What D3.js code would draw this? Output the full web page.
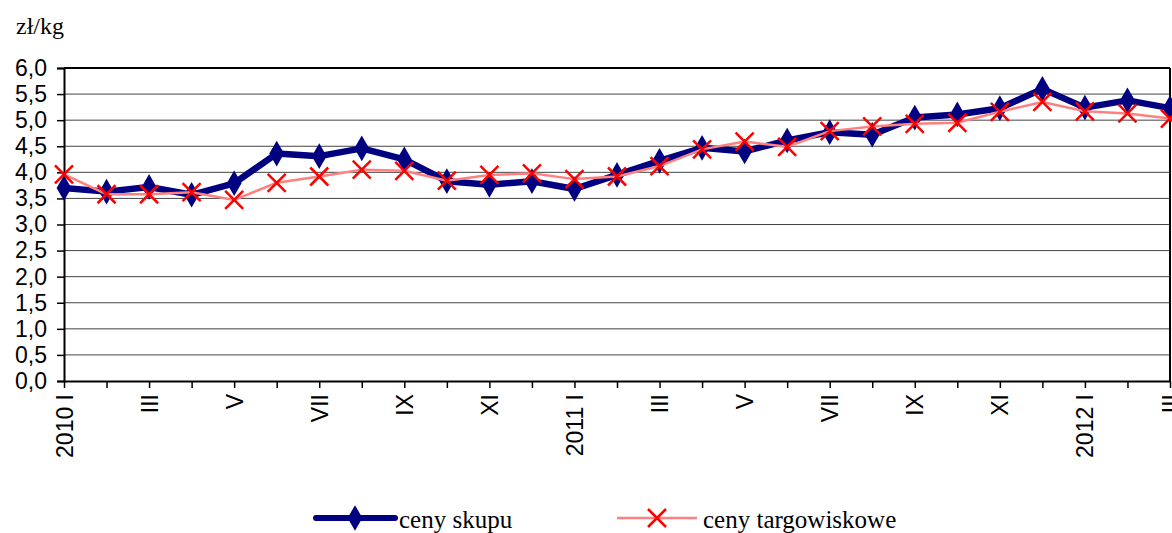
<!DOCTYPE html>
<html>
<head>
<meta charset="utf-8">
<script src="https://cdn.jsdelivr.net/npm/d3@7/dist/d3.min.js"></script>
<style>
body { margin: 0; background: #fff; }
</style>
</head>
<body>
<svg id="viz"></svg>
<script>
var width = 1172;
var height = 533;

// months 2010 I .. 2012 III
var months = ["2010 I","II","III","IV","V","VI","VII","VIII","IX","X","XI","XII",
  "2011 I","II","III","IV","V","VI","VII","VIII","IX","X","XI","XII",
  "2012 I","II","III"];

var cenySkupu = [3.70, 3.63, 3.72, 3.57, 3.79, 4.36, 4.31, 4.46, 4.25, 3.83, 3.76, 3.83,
  3.68, 3.95, 4.22, 4.47, 4.40, 4.61, 4.77, 4.72, 5.05, 5.11, 5.23, 5.60,
  5.24, 5.38, 5.23];

var cenyTarg = [3.96, 3.58, 3.58, 3.62, 3.47, 3.80, 3.92, 4.05, 4.03, 3.84, 3.95, 3.98,
  3.87, 3.92, 4.12, 4.44, 4.59, 4.49, 4.79, 4.88, 4.93, 4.95, 5.16, 5.35,
  5.17, 5.13, 5.03];

var yTicks = d3.range(0, 6.01, 0.5);

var left = 64, right = 1170;
var sans = "Arial, 'Liberation Sans', sans-serif";
var serif = "'Times New Roman', 'Liberation Serif', serif";

var svg = d3.select("#viz").attr("width", width).attr("height", height);

var x = d3.scalePoint()
  .domain(d3.range(months.length))
  .range([left, right]);

var y = d3.scaleLinear()
  .domain([0, 6])
  .range([381, 68]);

// gridlines
svg.append("g").selectAll("line")
  .data(yTicks.filter(function(d) { return d > 0; }))
  .enter().append("line")
  .attr("x1", left).attr("x2", right)
  .attr("y1", function(d) { return y(d); })
  .attr("y2", function(d) { return y(d); })
  .attr("stroke", function(d) { return d == 6 ? "#000" : "#444"; })
  .attr("stroke-width", function(d) { return d == 6 ? 2 : 1; });

// right border
svg.append("line")
  .attr("x1", right).attr("x2", right)
  .attr("y1", y(6)).attr("y2", y(0))
  .attr("stroke", "#000").attr("stroke-width", 2);

// y axis
var yAxis = d3.axisLeft(y)
  .tickValues(yTicks)
  .tickSize(7)
  .tickPadding(10)
  .tickFormat(function(d) { return d3.format(".1f")(d).replace(".", ","); });

var gy = svg.append("g")
  .attr("transform", "translate(" + left + ",0)")
  .call(yAxis);
gy.select(".domain").attr("stroke-width", 2);
gy.selectAll(".tick line").attr("stroke-width", 1.5);
gy.selectAll("text")
  .style("font-family", sans)
  .style("font-size", "23px")
  .attr("fill", "#000");

// x axis
var xAxis = d3.axisBottom(x)
  .tickSize(7)
  .tickSizeOuter(0)
  .tickFormat(function(i) { return i % 2 == 0 ? months[i] : ""; });

var gx = svg.append("g")
  .attr("transform", "translate(0," + y(0) + ")")
  .call(xAxis);
gx.select(".domain").attr("stroke-width", 2);
gx.selectAll(".tick line").attr("stroke-width", 1.5);
gx.selectAll("text")
  .style("font-family", sans)
  .style("font-size", "23px")
  .attr("fill", "#000")
  .attr("text-anchor", "end")
  .attr("transform", "rotate(-90)")
  .attr("x", -13)
  .attr("y", 0)
  .attr("dy", "0.35em");

// ceny skupu line
var line = d3.line()
  .x(function(d, i) { return x(i); })
  .y(function(d) { return y(d); });

svg.append("path")
  .datum(cenySkupu)
  .attr("d", line)
  .attr("fill", "none")
  .attr("stroke", "#000080")
  .attr("stroke-width", 6.5)
  .attr("stroke-linejoin", "round");

var diamond = d3.symbol().type(d3.symbolDiamond).size(190);

svg.append("g").selectAll("path")
  .data(cenySkupu)
  .enter().append("path")
  .attr("d", diamond)
  .attr("transform", function(d, i) { return "translate(" + x(i) + "," + y(d) + ")"; })
  .attr("fill", "#000080");

// ceny targowiskowe line
svg.append("path")
  .datum(cenyTarg)
  .attr("d", line)
  .attr("fill", "none")
  .attr("stroke", "#ff8080")
  .attr("stroke-width", 2.5);

function cross(g, cx, cy) {
  g.append("path")
    .attr("d", "M" + (cx - 9) + "," + (cy - 9) + "L" + (cx + 9) + "," + (cy + 9) +
      "M" + (cx - 9) + "," + (cy + 9) + "L" + (cx + 9) + "," + (cy - 9))
    .attr("stroke", "#ff0000")
    .attr("stroke-width", 2.5)
    .attr("fill", "none");
}

var crosses = svg.append("g");
cenyTarg.forEach(function(d, i) { cross(crosses, x(i), y(d)); });

// unit label
svg.append("text")
  .attr("x", 16).attr("y", 34)
  .text("zł/kg")
  .style("font-family", serif)
  .style("font-size", "24px");

// legend
var legend = svg.append("g");
legend.append("line")
  .attr("x1", 316).attr("x2", 395).attr("y1", 518).attr("y2", 518)
  .attr("stroke", "#000080").attr("stroke-width", 6).attr("stroke-linecap", "round");
legend.append("path")
  .attr("d", diamond)
  .attr("transform", "translate(355,518)")
  .attr("fill", "#000080");
legend.append("text")
  .attr("x", 399).attr("y", 528)
  .text("ceny skupu")
  .style("font-family", serif)
  .style("font-size", "25px");

legend.append("line")
  .attr("x1", 617).attr("x2", 697).attr("y1", 518).attr("y2", 518)
  .attr("stroke", "#ff8080").attr("stroke-width", 2.5);
cross(legend, 657, 518);
legend.append("text")
  .attr("x", 703).attr("y", 528)
  .text("ceny targowiskowe")
  .style("font-family", serif)
  .style("font-size", "25px");
</script>
</body>
</html>
